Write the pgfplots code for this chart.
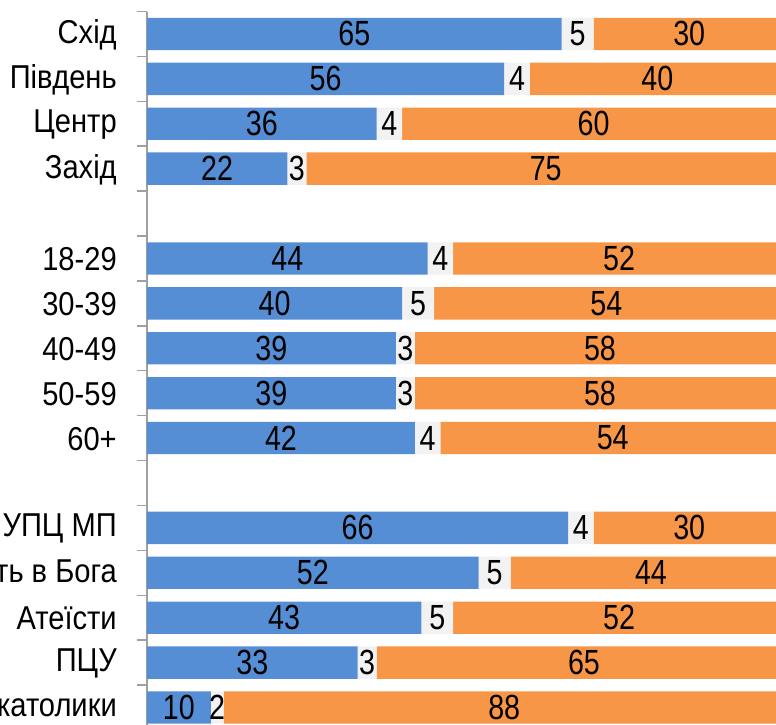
\documentclass[border=0pt]{standalone}
\usepackage{pgfplots}
\pgfplotsset{compat=1.18}
\usepackage{pgfplotstable}
\usepackage{fontspec}
\setmainfont{Liberation Sans}[FakeStretch=0.82]
\newfontfamily\labfam{Liberation Sans}[FakeStretch=0.88]
\newcommand\labfont{\labfam\fontsize{24.8bp}{28bp}\selectfont}
\newcommand\numfont{\fontsize{26.2bp}{30bp}\selectfont}
\definecolor{cblue}{RGB}{85,142,213}
\definecolor{cgray}{RGB}{242,242,242}
\definecolor{corange}{RGB}{247,150,70}
\definecolor{axgray}{RGB}{160,160,160}

\pgfplotstableread{
y b g o
1 65 5 30
2 56 4 40
3 36 4 60
4 22 3 75
6 44 4 52
7 40 5 54
8 39 3 58
9 39 3 58
10 42 4 54
12 66 4 30
13 52 5 44
14 43 5 52
15 33 3 65
16 10 2 88
}\mydata

\begin{document}
\begin{tikzpicture}
\useasboundingbox (-110.25bp,0) rectangle (471.75bp,543.75bp);
\begin{axis}[
  at={(0,0)}, anchor=south west,
  scale only axis, width=471.75bp, height=535.125bp,
  xbar stacked, bar width=0.72,
  xmin=0, xmax=98.6, ymin=0.5, ymax=16.39,
  y dir=reverse,
  hide x axis,
  axis y line*=left,
  axis line style={draw=axgray, line width=1.1bp},
  ytick={0.5,1.5,...,15.5},
  yticklabels={Схід,Південь,Центр,Захід,{},18-29,30-39,40-49,50-59,60+,{},УПЦ МП,Вірять в Бога,Атеїсти,ПЦУ,Греко-католики},
  tick align=outside,
  major tick length=7.5bp,
  tick style={draw=axgray, line width=1.1bp},
  yticklabel style={font=\labfont, inner sep=0pt, xshift=-15bp, yshift=-17.6bp, text=black},
]
\addplot[fill=cblue, draw=none] table[x=b,y=y]{\mydata};
\addplot[fill=cgray, draw=none] table[x=g,y=y]{\mydata};
\addplot[fill=corange, draw=none] table[x=o,y=y]{\mydata};
\end{axis}
\begin{axis}[
  at={(0,0)}, anchor=south west,
  scale only axis, width=471.75bp, height=535.125bp,
  xmin=0, xmax=98.6, ymin=0.5, ymax=16.39,
  y dir=reverse, hide axis, clip=false,
  nodes near coords={\pgfplotspointmeta},
  point meta=explicit symbolic,
  every node near coord/.append style={font=\numfont, inner sep=0pt, text=black, anchor=center},
]
\addplot[only marks, mark=*, mark size=0pt, mark options={draw=none,fill=none}] table[x expr=\thisrow{b}/2, y=y, meta=b]{\mydata};
\addplot[only marks, mark=*, mark size=0pt, mark options={draw=none,fill=none}] table[x expr=\thisrow{b}+\thisrow{g}/2, y=y, meta=g]{\mydata};
\addplot[only marks, mark=*, mark size=0pt, mark options={draw=none,fill=none}] table[x expr=\thisrow{b}+\thisrow{g}+\thisrow{o}/2, y=y, meta=o]{\mydata};
\end{axis}
\end{tikzpicture}
\end{document}
